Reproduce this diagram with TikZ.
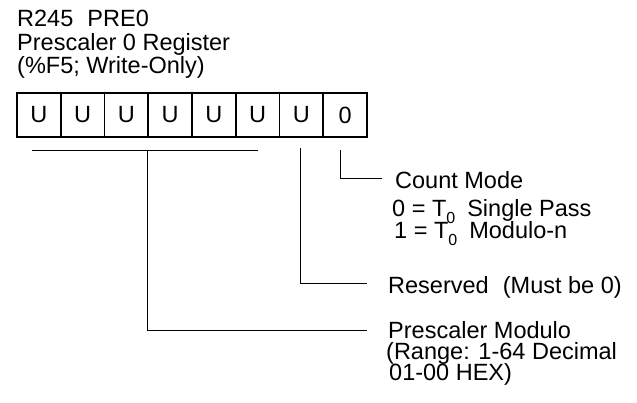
\documentclass[tikz,border=0pt]{standalone}
\usepackage{fontspec}
\setmainfont{Liberation Sans}
\begin{document}
\begin{tikzpicture}[x=1pt,y=-1pt,
  font=\fontsize{23.5}{23.5}\selectfont,
  cell/.style={draw, line width=1.6pt, minimum width=43.75pt, minimum height=44pt, inner sep=0pt, anchor=center},
  lbl/.style={anchor=base west, inner sep=0pt},
  lead/.style={line width=1pt}]
\useasboundingbox (0,0) rectangle (637,402);
% title
\node[lbl] (t1) at (17,26) {R245\hspace{0.6em}PRE0};
\node[lbl] (t2) at (17,50) {Prescaler 0 Register};
\node[lbl] (t3) at (17,73) {(\%F5; Write-Only)};
% cells
\foreach \i/\v in {1/U,2/U,3/U,4/U,5/U,6/U,7/U,8/0}
  \node[cell] (c\i) at ({17+(\i-0.5)*43.75},115) {\v};
% labels
\newcommand{\tsub}{T\raisebox{-7pt}{\fontsize{16}{16}\selectfont 0}}
\node[lbl] (cm) at (395,188) {Count Mode};
\node[lbl] (cm1) at (392,216) {0 = \tsub\hspace{12pt}Single Pass};
\node[lbl] (cm2) at (394,238) {1 = \tsub\hspace{12pt}Modulo-n};
\node[lbl] (rs) at (388,293) {Reserved\hspace{0.6em}(Must be 0)};
\node[lbl, align=left] (pm) at (388,380) {Prescaler Modulo\\[-2pt]\hspace*{-2pt}(Range: 1-64 Decimal\\[-3pt]\hspace*{1pt}01-00 HEX)};
% connector points
\coordinate (b8) at (340,150);
\coordinate (e8) at (382,178);
\coordinate (b7) at (300,148);
\coordinate (e7) at (367,283);
\coordinate (bl) at (32,150);
\coordinate (br) at (258,150);
\coordinate (bm) at (147,150);
\coordinate (e1) at (367,330);
\draw[lead] (b8) |- (e8);
\draw[lead] (b7) |- (e7);
\draw[lead] (bl) -- (br);
\draw[lead] (bm) |- (e1);
\end{tikzpicture}
\end{document}
